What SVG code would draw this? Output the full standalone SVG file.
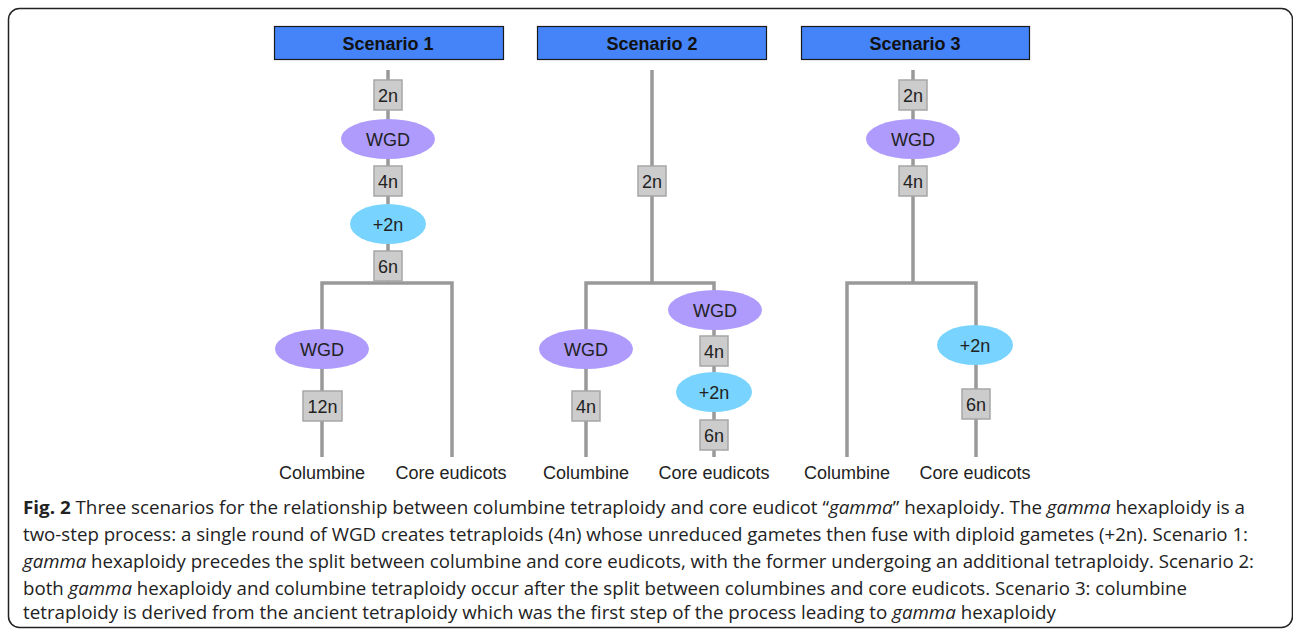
<svg xmlns="http://www.w3.org/2000/svg" width="1293" height="630" viewBox="0 0 1293 630">
<style>
.hdr{fill:#4483F8;stroke:#1a1a1a;stroke-width:1.2}
.ht{font-family:"Liberation Sans",Arial,sans-serif;font-weight:bold;font-size:18px;fill:#111;text-anchor:middle}
.ln{stroke:#999;stroke-width:3.5;fill:none}
.bx{fill:#CCCCCC;stroke:#A6A6A6;stroke-width:1.5}
.wgd{fill:#AE9BFB}
.p2n{fill:#78D4FE}
.t{font-family:"Liberation Sans",Arial,sans-serif;font-size:18px;fill:#222;text-anchor:middle}
.cap{font-family:"Open Sans","Liberation Sans",sans-serif;font-size:17.5px;fill:#222}
</style>
<rect width="1293" height="630" fill="#fff"/>
<rect x="8.5" y="8.5" width="1284" height="619" rx="11" fill="none" stroke="#222" stroke-width="1.5"/>
<g id="connectors">
<path class="ln" d="M388 70V283M322 457V283H452V457"/>
<path class="ln" d="M652 70V283M586 457V283H714V457"/>
<path class="ln" d="M913 70V283M847 457V283H976V457"/>
</g>
<g id="scenario1">
<g id="s1-header"><rect class="hdr" x="274.5" y="26.5" width="229" height="33"/><text class="ht" x="388" y="49.5">Scenario 1</text></g>
<g id="s1-2n"><rect class="bx" x="374" y="80" width="28" height="30"/><text class="t" x="388" y="101.5">2n</text></g>
<g id="s1-wgd"><ellipse class="wgd" cx="388" cy="139" rx="47" ry="20"/><text class="t" x="388" y="145.5">WGD</text></g>
<g id="s1-4n"><rect class="bx" x="374" y="166" width="28" height="30"/><text class="t" x="388" y="187.5">4n</text></g>
<g id="s1-p2n"><ellipse class="p2n" cx="388" cy="224" rx="38" ry="20"/><text class="t" x="388" y="230.5">+2n</text></g>
<g id="s1-6n"><rect class="bx" x="374" y="251" width="28" height="30"/><text class="t" x="388" y="272.5">6n</text></g>
<g id="s1-wgd2"><ellipse class="wgd" cx="322" cy="349" rx="47" ry="20"/><text class="t" x="322" y="355.5">WGD</text></g>
<g id="s1-12n"><rect class="bx" x="303" y="391" width="39" height="30"/><text class="t" x="322.5" y="412.5">12n</text></g>
<g id="s1-columbine"><text class="t" x="322" y="479">Columbine</text></g>
<g id="s1-core"><text class="t" x="451" y="479">Core eudicots</text></g>
</g>
<g id="scenario2">
<g id="s2-header"><rect class="hdr" x="537.5" y="26.5" width="229" height="33"/><text class="ht" x="652" y="49.5">Scenario 2</text></g>
<g id="s2-2n"><rect class="bx" x="638" y="166" width="28" height="30"/><text class="t" x="652" y="187.5">2n</text></g>
<g id="s2-wgd-l"><ellipse class="wgd" cx="586" cy="349" rx="47" ry="20"/><text class="t" x="586" y="355.5">WGD</text></g>
<g id="s2-4n-l"><rect class="bx" x="572" y="391" width="28" height="30"/><text class="t" x="586" y="412.5">4n</text></g>
<g id="s2-wgd-r"><ellipse class="wgd" cx="715" cy="310" rx="47" ry="20"/><text class="t" x="715" y="316.5">WGD</text></g>
<g id="s2-4n-r"><rect class="bx" x="700" y="336" width="28" height="30"/><text class="t" x="714" y="357.5">4n</text></g>
<g id="s2-p2n"><ellipse class="p2n" cx="714" cy="392" rx="38" ry="20"/><text class="t" x="714" y="398.5">+2n</text></g>
<g id="s2-6n"><rect class="bx" x="700" y="420" width="28" height="30"/><text class="t" x="714" y="441.5">6n</text></g>
<g id="s2-columbine"><text class="t" x="586" y="479">Columbine</text></g>
<g id="s2-core"><text class="t" x="714" y="479">Core eudicots</text></g>
</g>
<g id="scenario3">
<g id="s3-header"><rect class="hdr" x="801.5" y="26.5" width="228" height="33"/><text class="ht" x="915" y="49.5">Scenario 3</text></g>
<g id="s3-2n"><rect class="bx" x="899" y="80" width="28" height="30"/><text class="t" x="913" y="101.5">2n</text></g>
<g id="s3-wgd"><ellipse class="wgd" cx="913" cy="139" rx="47" ry="20"/><text class="t" x="913" y="145.5">WGD</text></g>
<g id="s3-4n"><rect class="bx" x="899" y="166" width="28" height="30"/><text class="t" x="913" y="187.5">4n</text></g>
<g id="s3-p2n"><ellipse class="p2n" cx="975" cy="345" rx="38" ry="20"/><text class="t" x="975" y="351.5">+2n</text></g>
<g id="s3-6n"><rect class="bx" x="962" y="389" width="28" height="30"/><text class="t" x="976" y="410.5">6n</text></g>
<g id="s3-columbine"><text class="t" x="847" y="479">Columbine</text></g>
<g id="s3-core"><text class="t" x="975" y="479">Core eudicots</text></g>
</g>
<g id="caption">
<text class="cap" x="23" y="514" textLength="1222" lengthAdjust="spacingAndGlyphs"><tspan font-weight="bold">Fig. 2</tspan> Three scenarios for the relationship between columbine tetraploidy and core eudicot “<tspan font-style="italic">gamma</tspan>” hexaploidy. The <tspan font-style="italic">gamma</tspan> hexaploidy is a</text>
<text class="cap" x="23" y="541" textLength="1225" lengthAdjust="spacingAndGlyphs">two-step process: a single round of WGD creates tetraploids (4n) whose unreduced gametes then fuse with diploid gametes (+2n). Scenario 1:</text>
<text class="cap" x="23" y="568" textLength="1231" lengthAdjust="spacingAndGlyphs"><tspan font-style="italic">gamma</tspan> hexaploidy precedes the split between columbine and core eudicots, with the former undergoing an additional tetraploidy. Scenario 2:</text>
<text class="cap" x="23" y="595" textLength="1164" lengthAdjust="spacingAndGlyphs">both <tspan font-style="italic">gamma</tspan> hexaploidy and columbine tetraploidy occur after the split between columbines and core eudicots. Scenario 3: columbine</text>
<text class="cap" x="23" y="619" textLength="1033" lengthAdjust="spacingAndGlyphs">tetraploidy is derived from the ancient tetraploidy which was the first step of the process leading to <tspan font-style="italic">gamma</tspan> hexaploidy</text>
</g>
</svg>
